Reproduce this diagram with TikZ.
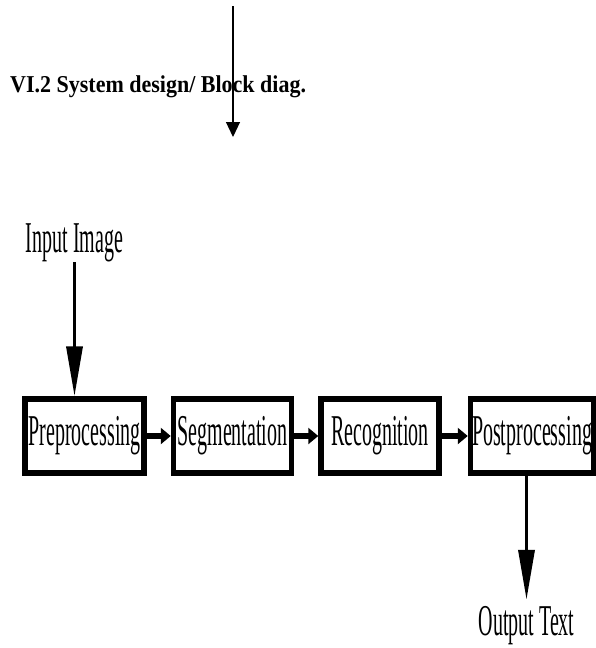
\documentclass[tikz,border=0pt]{standalone}
\usepackage{fontspec}
\setmainfont{Liberation Serif}
\usepackage{graphicx}
\usetikzlibrary{arrows.meta,positioning}
\newcommand{\tallText}[1]{\scalebox{1}[2.2]{#1}}

\begin{document}
\begin{tikzpicture}[
 x=1pt,y=-1pt,
 node distance=24pt,
 box/.style={draw=black,line width=5.5pt,fill=white,minimum width=118pt,minimum height=74pt,inner sep=0pt,font=\fontsize{20}{20}\selectfont},
 lbl/.style={inner sep=0pt,font=\fontsize{20}{20}\selectfont},
 flow/.style={-{Triangle[length=10pt,width=16pt]},line width=6pt},
 feed/.style={-{Triangle[length=50pt,width=16pt]},line width=3.5pt},
 thin/.style={-{Triangle[length=15pt,width=14pt]},line width=1.2pt}
]
\useasboundingbox (0,0) rectangle (595,648);
\node[anchor=base west,inner sep=0pt,font=\fontsize{22}{22}\selectfont\bfseries] (title) at (10,92) {\scalebox{1}[1.1]{VI.2 System design/ Block diag.}};
\coordinate (topA) at (233,6);
\coordinate (topB) at (233,137);
\draw[thin] (topA)--(topB);
\node[box,minimum width=119pt] (pre) at (84.5,436) {\tallText{Preprocessing}};
\node[box,right=of pre] (seg) {\tallText{Segmentation}};
\node[box,right=of seg] (rec) {\tallText{Recognition}};
\node[box,right=26pt of rec,minimum width=123pt] (post) {\tallText{Postprocessing}};
\node[lbl,above=134pt of pre,xshift=-10pt] (inimg) {\tallText{Input Image}};
\node[lbl,below=130pt of post,xshift=-5.5pt] (outtxt) {\tallText{Output Text}};
\draw[feed] (inimg.south)--(inimg.south |- pre.north);
\draw[flow] (pre)--(seg); \draw[flow] (seg)--(rec); \draw[flow] (rec)--(post);
\draw[feed,shorten >=6pt] (outtxt.north |- post.south)--(outtxt);
\end{tikzpicture}
\end{document}
